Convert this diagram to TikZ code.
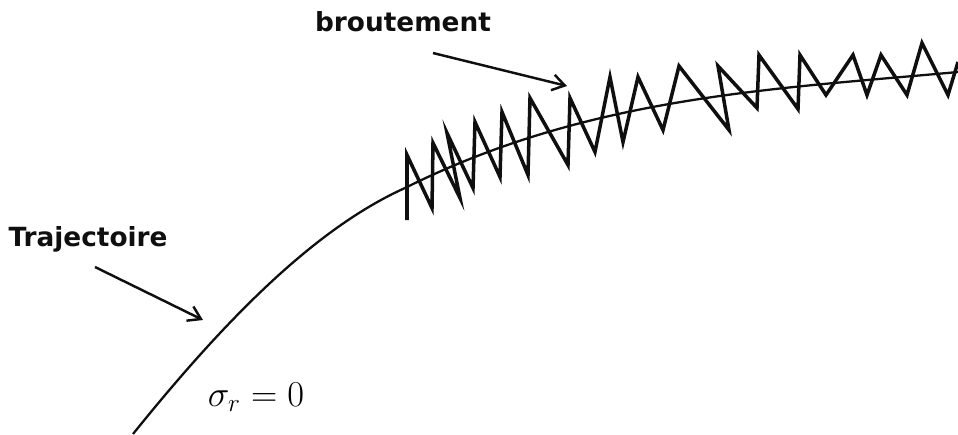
\documentclass[tikz,border=0pt]{standalone}
\usepackage{fontspec}
\usepackage{xcolor}
\usetikzlibrary{arrows.meta}
\newfontfamily\lblfont{DejaVu Sans}
\definecolor{myink}{RGB}{15,15,15}

\tikzset{
  lbl/.style={font=\lblfont\bfseries\fontsize{15}{17}\selectfont, color=myink},
  pointer/.style={line width=1.4pt, color=myink, -{Straight Barb[length=7pt,width=9pt,line width=1.4pt]}},
  trajline/.style={line width=1.3pt, color=myink},
  chatter/.style={line width=2pt, color=myink, line join=miter}
}

\begin{document}
\begin{tikzpicture}[x=0.02cm, y=-0.02cm]
\useasboundingbox (0,0) rectangle (958,434);

% trajectoire
\coordinate (t0) at (133,434);
\coordinate (t1) at (405,188);
\coordinate (t2) at (958,72);
\draw[trajline] (t0) .. controls (224,321) and (314,229) .. (t1)
  .. controls (589,96) and (774,89) .. (t2);

% broutement (zig-zag)
\draw[chatter] (407,220) -- (407,155) -- (432,208) -- (433,143) -- (460,198)
  -- (447,133) -- (473,188) -- (475,122) -- (500,177) -- (502,112)
  -- (528,175) -- (530,98) -- (568,165) -- (570,98) -- (595,152)
  -- (610,77) -- (623,142) -- (638,77) -- (663,130) -- (679,66)
  -- (729,130) -- (718,66) -- (757,108) -- (759,55) -- (798,109)
  -- (800,55) -- (826,95) -- (853,55) -- (867,95) -- (881,55)
  -- (907,95) -- (922,43) -- (948,95) -- (958,62);

% labels
\node[lbl] (brout) at (403,22) {broutement};
\node[lbl] (traj) at (88,239) {Trajectoire};
\node[font=\fontsize{19.5}{22}\selectfont] (sig) at (256,397) {$\sigma_r = 0$};

\coordinate (broutA) at (433,53);
\coordinate (broutB) at (567,86);
\coordinate (trajA) at (95,267);
\coordinate (trajB) at (203,320);
\draw[pointer] (broutA) -- (broutB);
\draw[pointer] (trajA) -- (trajB);
\end{tikzpicture}
\end{document}
